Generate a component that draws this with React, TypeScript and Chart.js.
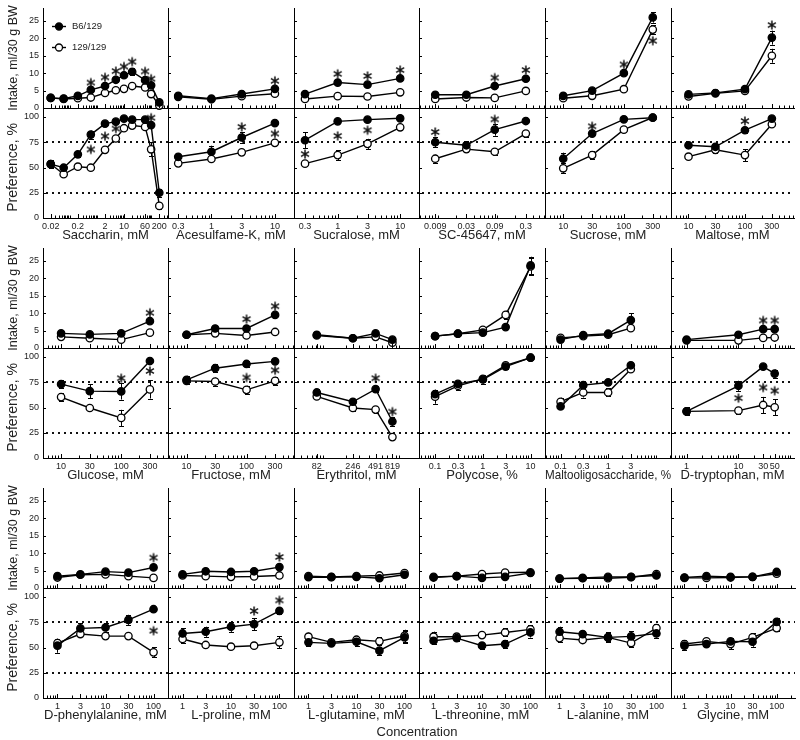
import React, { useEffect, useRef } from "react";
import { Chart, registerables } from "chart.js";
Chart.register(...registerables);

const FONT = "'Liberation Sans', Arial, Helvetica, sans-serif";
Chart.defaults.font.family = FONT;
Chart.defaults.color = "#222";

// ---------------- data ----------------
const seriesLabels = ["B6/129", "129/129"];
const intakeTicks = [0, 5, 10, 15, 20, 25];
const prefTicks = [0, 25, 50, 75, 100];
const prefRefLines = [25, 75];
const intakeMax = 28.7;

const sugarConc = [10, 30, 100, 300];
const sugarTicks = ["10", "30", "100", "300"];
const aminoConc = [1, 3, 10, 30, 100];
const aminoTicks = ["1", "3", "10", "30", "100"];

// Saccharin
const saccharinConc = [0.02, 0.06, 0.2, 0.6, 2, 5, 10, 20, 60, 100, 200];
const saccharinTicks = ["0.02", "0.2", "2", "10", "60", "200"];
const saccharinIntakeB6 = [2.9, 2.7, 3.5, 5.2, 6.3, 8.1, 9.4, 10.4, 8.0, 6.5, 1.6];
const saccharinIntake129 = [2.9, 2.6, 2.8, 3.0, 4.3, 5.1, 5.5, 6.3, 5.9, 4.0, 0.7];
const saccharinIntakeErrB6 = [0.3, 0.3, 0.3, 0.5, 0.5, 0.5, 0.6, 1.0, 0.6, 0.5, 0.4];
const saccharinIntakeErr129 = [0.3, 0.3, 0.3, 0.3, 0.4, 0.4, 0.4, 0.5, 0.5, 0.4, 0.2];
const saccharinPrefB6 = [53.4, 49.8, 63, 82.6, 93.4, 95.4, 98.4, 97.4, 97.4, 92, 25];
const saccharinPref129 = [53.4, 43.3, 50.8, 49.8, 67.5, 78.7, 88.9, 91.5, 90.2, 68, 12];
const saccharinPrefErrB6 = [4, 2, 3, 4, 1, 1, 1, 1, 1, 2, 4];
const saccharinPrefErr129 = [3, 2, 2, 2, 2, 2, 2, 2, 2, 7, 3];
const saccharinIntakeStars = [[0.6, 7.3], [2, 8.8], [5, 10.6], [10, 11.9], [20, 13.3], [60, 10.5], [100, 8.4]];
const saccharinPrefStars = [[0.6, 67.9], [2, 81], [5, 88.5], [100, 99.3]];

// Acesulfame-K
const acesulfameConc = [0.3, 1, 3, 10];
const acesulfameTicks = ["0.3", "1", "3", "10"];
const acesulfameIntakeB6 = [3.5, 2.7, 4.0, 5.5];
const acesulfameIntake129 = [3.2, 2.5, 3.4, 4.1];
const acesulfamePrefB6 = [60.6, 65.6, 79.7, 94];
const acesulfamePref129 = [54.1, 58.4, 65, 74.4];
const acesulfamePrefErrB6 = [3, 6, 5, 1];
const acesulfamePrefErr129 = [3, 2, 2, 2];
const acesulfameIntakeStars = [[10, 7.8]];
const acesulfamePrefStars = [[3, 90.2], [10, 83.6]];

// Sucralose
const sucraloseConc = [0.3, 1, 3, 10];
const sucraloseTicks = ["0.3", "1", "3", "10"];
const sucraloseIntakeB6 = [4.0, 7.3, 6.7, 8.5];
const sucraloseIntake129 = [2.6, 3.4, 3.3, 4.5];
const sucralosePrefB6 = [77, 95.7, 97.4, 98.7];
const sucralosePref129 = [53.8, 62.3, 73.4, 89.8];
const sucralosePrefErrB6 = [8, 1, 1, 1];
const sucralosePrefErr129 = [2, 5, 5, 3];
const sucraloseIntakeStars = [[1, 9.8], [3, 9.2], [10, 10.9]];
const sucralosePrefStars = [[0.3, 63.3], [1, 81.3], [3, 86.9]];

// SC-45647
const scConc = [0.009, 0.03, 0.09, 0.3];
const scTicks = ["0.009", "0.03", "0.09", "0.3"];
const scIntakeB6 = [3.8, 3.8, 6.3, 8.4];
const scIntake129 = [2.6, 3.0, 2.9, 4.9];
const scPrefB6 = [75, 72, 87.5, 96];
const scPref129 = [58.7, 68.2, 65.6, 83.6];
const scPrefErrB6 = [5, 4, 6, 1];
const scPrefErr129 = [4, 3, 3, 3];
const scIntakeStars = [[0.09, 8.7], [0.3, 10.9]];
const scPrefStars = [[0.009, 85.2], [0.09, 97.7]];

// Sucrose
const sucroseIntakeB6 = [3.5, 5.0, 10.0, 26.0];
const sucroseIntake129 = [2.8, 3.5, 5.4, 22.5];
const sucroseIntakeErrB6 = [0.3, 0.3, 0.5, 1.5];
const sucroseIntakeErr129 = [0.2, 0.3, 0.4, 1.2];
const sucrosePrefB6 = [58.7, 83.6, 97.7, 99.3];
const sucrosePref129 = [49.2, 62.3, 87.5, 99.5];
const sucrosePrefErrB6 = [6, 2, 1, 1];
const sucrosePrefErr129 = [5, 4, 2, 1];
const sucroseIntakeStars = [[100, 12.5], [300, 19.3]];
const sucrosePrefStars = [[30, 90.8]];

// Maltose
const maltoseIntakeB6 = [3.9, 4.3, 5.4, 20.2];
const maltoseIntake129 = [3.3, 4.2, 4.9, 15.0];
const maltoseIntakeErrB6 = [0.3, 0.3, 0.4, 2.0];
const maltoseIntakeErr129 = [0.3, 0.3, 0.3, 2.0];
const maltosePrefB6 = [72, 70.5, 86.9, 98.4];
const maltosePref129 = [60.7, 67.5, 62.3, 92.8];
const maltosePrefErrB6 = [3, 3, 3, 1];
const maltosePrefErr129 = [2, 3, 6, 2];
const maltoseIntakeStars = [[300, 23.8]];
const maltosePrefStars = [[100, 96]];

// Glucose
const glucoseIntakeB6 = [4.2, 3.9, 4.2, 7.7];
const glucoseIntake129 = [3.2, 2.8, 2.4, 4.4];
const glucosePrefB6 = [73.1, 66.2, 65.9, 96];
const glucosePref129 = [60.3, 49.5, 39.7, 67.9];
const glucosePrefErrB6 = [4, 7, 8, 1];
const glucosePrefErr129 = [4, 2, 8, 9];
const glucoseIntakeStars = [[300, 10.1]];
const glucosePrefStars = [[100, 79], [300, 86.2]];

// Fructose
const fructoseIntakeB6 = [3.8, 5.6, 5.6, 9.5];
const fructoseIntake129 = [3.8, 4.2, 3.6, 4.6];
const fructosePrefB6 = [77.4, 88.9, 93.1, 95.7];
const fructosePref129 = [76.4, 75.7, 67.5, 76.4];
const fructosePrefErrB6 = [4, 4, 3, 1];
const fructosePrefErr129 = [3, 4, 4, 4];
const fructoseIntakeStars = [[100, 8.3], [300, 12]];
const fructosePrefStars = [[100, 79.7], [300, 86.9]];

// Erythritol
const erythritolConc = [82, 246, 491, 819];
const erythritolTicks = ["82", "246", "491", "819"];
const erythritolIntakeB6 = [3.8, 2.8, 4.2, 2.4];
const erythritolIntake129 = [3.6, 2.8, 3.2, 1.5];
const erythritolPrefB6 = [64.9, 55.7, 68.2, 36.1];
const erythritolPref129 = [61, 49.5, 47.9, 20.7];
const erythritolPrefErrB6 = [3, 3, 3, 4];
const erythritolPrefErr129 = [2, 3, 3, 2];
const erythritolPrefStars = [[491, 79], [819, 45.9]];

// Polycose
const polycoseConc = [0.1, 0.3, 1, 3, 10];
const polycoseTicks = ["0.1", "0.3", "1", "3", "10"];
const polycoseIntakeB6 = [3.4, 4.1, 4.4, 6.0, 23.7];
const polycoseIntake129 = [3.4, 4.1, 5.2, 9.5, 23.4];
const polycoseIntakeErrB6 = [0.3, 0.3, 0.4, 0.5, 2.5];
const polycoseIntakeErr129 = [0.3, 0.3, 0.4, 1.2, 2.5];
const polycosePrefB6 = [63.3, 73.4, 77.7, 90.5, 99.3];
const polycosePref129 = [60.7, 71.5, 78.4, 91.8, 99.3];
const polycosePrefErrB6 = [4, 3, 4, 2, 1];
const polycosePrefErr129 = [7, 4, 3, 2, 1];

// Maltooligosaccharide
const maltoligoConc = [0.1, 0.3, 1, 3];
const maltoligoTicks = ["0.1", "0.3", "1", "3"];
const maltoligoIntakeB6 = [2.4, 3.7, 4.1, 8.0];
const maltoligoIntake129 = [2.9, 3.4, 3.8, 5.7];
const maltoligoIntakeErrB6 = [0.3, 0.4, 0.4, 2.0];
const maltoligoIntakeErr129 = [0.3, 0.3, 0.3, 0.6];
const maltoligoPrefB6 = [51.1, 72.1, 74.8, 91.8];
const maltoligoPref129 = [55.7, 64.9, 64.9, 87.9];
const maltoligoPrefErrB6 = [2, 3, 3, 2];
const maltoligoPrefErr129 = [4, 5, 4, 2];

// D-tryptophan
const dTrpConc = [1, 10, 30, 50];
const dTrpTicks = ["1", "10", "30", "50"];
const dTrpIntakeB6 = [2.4, 3.8, 5.4, 5.4];
const dTrpIntake129 = [2.2, 2.2, 2.9, 3.0];
const dTrpPrefB6 = [46.2, 71.5, 90.5, 83.6];
const dTrpPref129 = [46.2, 46.9, 52.5, 50.2];
const dTrpPrefErrB6 = [4, 5, 1, 4];
const dTrpPrefErr129 = [3, 3, 8, 8];
const dTrpIntakeStars = [[30, 7.9], [50, 7.9]];
const dTrpPrefStars = [[10, 59.3], [30, 69.8], [50, 66.6]];

// D-phenylalanine
const dPheIntakeB6 = [3.4, 3.9, 4.7, 4.4, 5.9];
const dPheIntake129 = [3.0, 3.8, 3.9, 3.4, 2.9];
const dPhePrefB6 = [51.8, 68.9, 69.8, 77.4, 87.9];
const dPhePref129 = [54.4, 63.3, 61.3, 61.3, 45.2];
const dPhePrefErrB6 = [7, 5, 4, 5, 1];
const dPhePrefErr129 = [4, 2, 2, 1, 5];
const dPheIntakeStars = [[100, 8.7]];
const dPhePrefStars = [[100, 66.6]];

// L-proline
const lProIntakeB6 = [3.9, 4.8, 4.6, 4.8, 6.0];
const lProIntake129 = [3.6, 3.4, 3.2, 3.3, 3.6];
const lProPrefB6 = [63.9, 65.6, 70.5, 73.1, 86.2];
const lProPref129 = [58.4, 52.5, 50.8, 51.8, 55.1];
const lProPrefErrB6 = [5, 5, 5, 6, 3];
const lProPrefErr129 = [4, 1, 1, 1, 6];
const lProIntakeStars = [[100, 8.9]];
const lProPrefStars = [[30, 86.2], [100, 96.7]];

// L-glutamine
const lGlnIntakeB6 = [3.1, 3.1, 3.2, 2.8, 3.8];
const lGlnIntake129 = [3.4, 3.2, 3.4, 3.6, 4.3];
const lGlnPrefB6 = [55.1, 54.1, 55.7, 46.9, 60];
const lGlnPref129 = [60.7, 55.1, 57.7, 56.1, 61.6];
const lGlnPrefErrB6 = [4, 3, 4, 4, 6];
const lGlnPrefErr129 = [4, 3, 3, 4, 6];

// L-threonine
const lThrIntakeB6 = [3.0, 3.4, 2.9, 3.2, 4.3];
const lThrIntake129 = [3.2, 3.4, 4.0, 4.4, 4.5];
const lThrPrefB6 = [56.7, 59.3, 51.8, 53.4, 64.9];
const lThrPref129 = [60.7, 60.7, 62.3, 64.9, 67.9];
const lThrPrefErrB6 = [3, 3, 3, 4, 5];
const lThrPrefErr129 = [5, 3, 2, 4, 4];

// L-alanine
const lAlaIntakeB6 = [2.7, 2.9, 3.2, 3.2, 3.6];
const lAlaIntake129 = [2.7, 2.8, 2.8, 3.1, 4.0];
const lAlaPrefB6 = [65.6, 63.3, 60, 61, 63.9];
const lAlaPref129 = [59.3, 57.4, 60, 54.4, 69.2];
const lAlaPrefErrB6 = [5, 3, 5, 5, 4];
const lAlaPrefErr129 = [4, 2, 4, 4, 4];

// Glycine
const glyIntakeB6 = [3.0, 3.4, 3.2, 3.2, 4.6];
const glyIntake129 = [2.9, 2.9, 3.0, 3.2, 4.1];
const glyPrefB6 = [51.8, 53.4, 56.1, 55.7, 75.4];
const glyPref129 = [53.4, 56.1, 53.4, 60, 69.2];
const glyPrefErrB6 = [4, 2, 3, 5, 4];
const glyPrefErr129 = [4, 2, 5, 4, 3];

type Panel = {
  title: string;
  conc: number[];
  ticks: string[];
  range: [number, number];
  intake: number[][];
  intakeErr?: number[][];
  pref: number[][];
  prefErr?: number[][];
  intakeStars?: number[][];
  prefStars?: number[][];
};

const panels: Panel[][] = [
  [
    { title: "Saccharin, mM", conc: saccharinConc, ticks: saccharinTicks, range: [0.0104, 418],
      intake: [saccharinIntakeB6, saccharinIntake129], intakeErr: [saccharinIntakeErrB6, saccharinIntakeErr129],
      pref: [saccharinPrefB6, saccharinPref129], prefErr: [saccharinPrefErrB6, saccharinPrefErr129],
      intakeStars: saccharinIntakeStars, prefStars: saccharinPrefStars },
    { title: "Acesulfame-K, mM", conc: acesulfameConc, ticks: acesulfameTicks, range: [0.207, 20],
      intake: [acesulfameIntakeB6, acesulfameIntake129],
      pref: [acesulfamePrefB6, acesulfamePref129], prefErr: [acesulfamePrefErrB6, acesulfamePrefErr129],
      intakeStars: acesulfameIntakeStars, prefStars: acesulfamePrefStars },
    { title: "Sucralose, mM", conc: sucraloseConc, ticks: sucraloseTicks, range: [0.2, 20],
      intake: [sucraloseIntakeB6, sucraloseIntake129],
      pref: [sucralosePrefB6, sucralosePref129], prefErr: [sucralosePrefErrB6, sucralosePrefErr129],
      intakeStars: sucraloseIntakeStars, prefStars: sucralosePrefStars },
    { title: "SC-45647, mM", conc: scConc, ticks: scTicks, range: [0.0048, 0.63],
      intake: [scIntakeB6, scIntake129],
      pref: [scPrefB6, scPref129], prefErr: [scPrefErrB6, scPrefErr129],
      intakeStars: scIntakeStars, prefStars: scPrefStars },
    { title: "Sucrose, mM", conc: sugarConc, ticks: sugarTicks, range: [5, 600],
      intake: [sucroseIntakeB6, sucroseIntake129], intakeErr: [sucroseIntakeErrB6, sucroseIntakeErr129],
      pref: [sucrosePrefB6, sucrosePref129], prefErr: [sucrosePrefErrB6, sucrosePrefErr129],
      intakeStars: sucroseIntakeStars, prefStars: sucrosePrefStars },
    { title: "Maltose, mM", conc: sugarConc, ticks: sugarTicks, range: [4.9, 740],
      intake: [maltoseIntakeB6, maltoseIntake129], intakeErr: [maltoseIntakeErrB6, maltoseIntakeErr129],
      pref: [maltosePrefB6, maltosePref129], prefErr: [maltosePrefErrB6, maltosePrefErr129],
      intakeStars: maltoseIntakeStars, prefStars: maltosePrefStars },
  ],
  [
    { title: "Glucose, mM", conc: sugarConc, ticks: sugarTicks, range: [5, 600],
      intake: [glucoseIntakeB6, glucoseIntake129],
      pref: [glucosePrefB6, glucosePref129], prefErr: [glucosePrefErrB6, glucosePrefErr129],
      intakeStars: glucoseIntakeStars, prefStars: glucosePrefStars },
    { title: "Fructose, mM", conc: sugarConc, ticks: sugarTicks, range: [4.9, 620],
      intake: [fructoseIntakeB6, fructoseIntake129],
      pref: [fructosePrefB6, fructosePref129], prefErr: [fructosePrefErrB6, fructosePrefErr129],
      intakeStars: fructoseIntakeStars, prefStars: fructosePrefStars },
    { title: "Erythritol, mM", conc: erythritolConc, ticks: erythritolTicks, range: [41, 1840],
      intake: [erythritolIntakeB6, erythritolIntake129],
      pref: [erythritolPrefB6, erythritolPref129], prefErr: [erythritolPrefErrB6, erythritolPrefErr129],
      prefStars: erythritolPrefStars },
    { title: "Polycose, %", conc: polycoseConc, ticks: polycoseTicks, range: [0.046, 20],
      intake: [polycoseIntakeB6, polycoseIntake129], intakeErr: [polycoseIntakeErrB6, polycoseIntakeErr129],
      pref: [polycosePrefB6, polycosePref129], prefErr: [polycosePrefErrB6, polycosePrefErr129] },
    { title: "Maltooligosaccharide, %", conc: maltoligoConc, ticks: maltoligoTicks, range: [0.047, 21],
      intake: [maltoligoIntakeB6, maltoligoIntake129], intakeErr: [maltoligoIntakeErrB6, maltoligoIntakeErr129],
      pref: [maltoligoPrefB6, maltoligoPref129], prefErr: [maltoligoPrefErrB6, maltoligoPrefErr129] },
    { title: "D-tryptophan, mM", conc: dTrpConc, ticks: dTrpTicks, range: [0.5, 118],
      intake: [dTrpIntakeB6, dTrpIntake129],
      pref: [dTrpPrefB6, dTrpPref129], prefErr: [dTrpPrefErrB6, dTrpPrefErr129],
      intakeStars: dTrpIntakeStars, prefStars: dTrpPrefStars },
  ],
  [
    { title: "D-phenylalanine, mM", conc: aminoConc, ticks: aminoTicks, range: [0.5, 200],
      intake: [dPheIntakeB6, dPheIntake129],
      pref: [dPhePrefB6, dPhePref129], prefErr: [dPhePrefErrB6, dPhePrefErr129],
      intakeStars: dPheIntakeStars, prefStars: dPhePrefStars },
    { title: "L-proline, mM", conc: aminoConc, ticks: aminoTicks, range: [0.5, 200],
      intake: [lProIntakeB6, lProIntake129],
      pref: [lProPrefB6, lProPref129], prefErr: [lProPrefErrB6, lProPrefErr129],
      intakeStars: lProIntakeStars, prefStars: lProPrefStars },
    { title: "L-glutamine, mM", conc: aminoConc, ticks: aminoTicks, range: [0.5, 200],
      intake: [lGlnIntakeB6, lGlnIntake129],
      pref: [lGlnPrefB6, lGlnPref129], prefErr: [lGlnPrefErrB6, lGlnPrefErr129] },
    { title: "L-threonine, mM", conc: aminoConc, ticks: aminoTicks, range: [0.5, 200],
      intake: [lThrIntakeB6, lThrIntake129],
      pref: [lThrPrefB6, lThrPref129], prefErr: [lThrPrefErrB6, lThrPrefErr129] },
    { title: "L-alanine, mM", conc: aminoConc, ticks: aminoTicks, range: [0.5, 200],
      intake: [lAlaIntakeB6, lAlaIntake129],
      pref: [lAlaPrefB6, lAlaPref129], prefErr: [lAlaPrefErrB6, lAlaPrefErr129] },
    { title: "Glycine, mM", conc: aminoConc, ticks: aminoTicks, range: [0.51, 250],
      intake: [glyIntakeB6, glyIntake129],
      pref: [glyPrefB6, glyPref129], prefErr: [glyPrefErrB6, glyPrefErr129] },
  ],
];

// ---------------- layout ----------------
const COL_X = [43, 168, 294, 419, 545, 671];
const ROW_TOP = [8, 248, 488];
const INTAKE_H = 100;
const GAP = 9;
const PREF_H = 101;

let starImg: HTMLCanvasElement | null = null;
function getStar(): HTMLCanvasElement {
  if (starImg) return starImg;
  const c = document.createElement("canvas");
  c.width = 12;
  c.height = 12;
  const g = c.getContext("2d")!;
  g.strokeStyle = "#111";
  g.lineWidth = 1.5;
  g.beginPath();
  const cx = 6, cy = 6, r = 4.6;
  for (let k = 0; k < 3; k++) {
    const a = Math.PI / 2 + (k * Math.PI) / 3;
    g.moveTo(cx + r * Math.cos(a), cy + r * Math.sin(a));
    g.lineTo(cx - r * Math.cos(a), cy - r * Math.sin(a));
  }
  g.stroke();
  starImg = c;
  return c;
}

function lineDs(label: string, xs: number[], ys: number[], errs: number[] | undefined, filled: boolean) {
  return {
    type: "line",
    label,
    data: xs.map((x, i) => ({ x, y: ys[i] })),
    errors: errs,
    borderColor: "#000",
    borderWidth: 1.4,
    pointRadius: 3.7,
    pointHoverRadius: 3.7,
    pointBorderWidth: 1.3,
    pointBackgroundColor: filled ? "#000" : "#fff",
    pointBorderColor: "#000",
    fill: false,
    tension: 0,
    clip: false,
  };
}

function Subplot({ p, col, row, kind }: { p: Panel; col: number; row: number; kind: "intake" | "pref" }) {
  const ref = useRef<HTMLCanvasElement>(null);
  const isIntake = kind === "intake";
  const first = col === 0;
  const padL = first ? 43 : 6;
  const right = col < 5 ? COL_X[col + 1] : 800;
  const plotW = right - COL_X[col];
  const padR = col < 5 ? 10 : 0;
  const padT = 6;
  const padB = isIntake ? 6 : 30;
  const plotH = isIntake ? INTAKE_H : PREF_H;
  const plotTop = ROW_TOP[row] + (isIntake ? 0 : INTAKE_H + GAP);
  const W = padL + plotW + padR;
  const H = padT + plotH + padB;
  const left = COL_X[col] - padL;
  const top = plotTop - padT;

  useEffect(() => {
    const ys = isIntake ? p.intake : p.pref;
    const errs = isIntake ? p.intakeErr : p.prefErr;
    const stars = isIntake ? p.intakeStars : p.prefStars;
    const tickVals = p.ticks.map(Number);
    const yTicks = isIntake ? intakeTicks : prefTicks;
    const datasets: any[] = [
      lineDs(seriesLabels[0], p.conc, ys[0], errs ? errs[0] : undefined, true),
      lineDs(seriesLabels[1], p.conc, ys[1], errs ? errs[1] : undefined, false),
    ];
    if (stars && stars.length) {
      datasets.push({
        type: "line",
        label: "*",
        data: stars.map(([x, y]) => ({ x, y })),
        showLine: false,
        pointStyle: getStar(),
        pointRadius: 5,
        clip: false,
      });
    }

    const plugins: any[] = [
      {
        id: "refLinesAndErrors",
        beforeDatasetsDraw(chart: any) {
          const { ctx, chartArea, scales } = chart;
          ctx.save();
          if (!isIntake) {
            ctx.strokeStyle = "#111";
            ctx.lineWidth = 2;
            ctx.setLineDash([2, 4]);
            for (const v of prefRefLines) {
              const y = Math.round(scales.y.getPixelForValue(v));
              ctx.beginPath();
              ctx.moveTo(chartArea.left + 3, y);
              ctx.lineTo(chartArea.right, y);
              ctx.stroke();
            }
            ctx.setLineDash([]);
          }
          ctx.strokeStyle = "#000";
          ctx.lineWidth = 1;
          chart.data.datasets.forEach((ds: any, i: number) => {
            if (!ds.errors) return;
            const meta = chart.getDatasetMeta(i);
            meta.data.forEach((pt: any, j: number) => {
              const e = ds.errors[j];
              if (!e) return;
              const v = ds.data[j].y;
              const x = Math.round(pt.x) + 0.5;
              const y1 = scales.y.getPixelForValue(v + e);
              const y2 = scales.y.getPixelForValue(v - e);
              ctx.beginPath();
              ctx.moveTo(x, y1);
              ctx.lineTo(x, y2);
              ctx.moveTo(x - 2.5, Math.round(y1) + 0.5);
              ctx.lineTo(x + 2.5, Math.round(y1) + 0.5);
              ctx.moveTo(x - 2.5, Math.round(y2) + 0.5);
              ctx.lineTo(x + 2.5, Math.round(y2) + 0.5);
              ctx.stroke();
            });
          });
          ctx.restore();
        },
      },
      {
        id: "inwardTicks",
        afterDraw(chart: any) {
          const { ctx, chartArea, scales } = chart;
          const xs = scales.x;
          ctx.save();
          ctx.strokeStyle = "#000";
          ctx.lineWidth = 1;
          ctx.beginPath();
          const b = Math.round(chartArea.bottom);
          for (const v of tickVals) {
            const x = Math.round(xs.getPixelForValue(v)) + 0.5;
            ctx.moveTo(x, b);
            ctx.lineTo(x, b - 4);
          }
          const k0 = Math.floor(Math.log10(p.range[0]));
          const k1 = Math.ceil(Math.log10(p.range[1]));
          for (let k = k0; k <= k1; k++) {
            for (let m = 1; m <= 9; m++) {
              const v = m * Math.pow(10, k);
              if (v <= p.range[0] || v >= p.range[1]) continue;
              if (tickVals.some((t) => Math.abs(t - v) / v < 1e-6)) continue;
              const x = Math.round(xs.getPixelForValue(v)) + 0.5;
              ctx.moveTo(x, b);
              ctx.lineTo(x, b - 2.5);
            }
          }
          const l = Math.round(chartArea.left);
          for (const v of yTicks) {
            const y = Math.round(scales.y.getPixelForValue(v)) + 0.5;
            ctx.moveTo(l, y);
            ctx.lineTo(l + 3, y);
          }
          ctx.stroke();
          ctx.restore();
        },
      },
    ];

    if (first && row === 0 && isIntake) {
      plugins.push({
        id: "innerLegend",
        afterDraw(chart: any) {
          const { ctx, chartArea } = chart;
          ctx.save();
          chart.data.datasets.slice(0, 2).forEach((ds: any, i: number) => {
            const y = Math.round(chartArea.top + 17.7 + i * 21.3) + 0.5;
            const x0 = chartArea.left + 9;
            ctx.strokeStyle = "#000";
            ctx.lineWidth = 1.4;
            ctx.beginPath();
            ctx.moveTo(x0, y);
            ctx.lineTo(x0 + 14, y);
            ctx.stroke();
            ctx.beginPath();
            ctx.arc(x0 + 7, y, 3.5, 0, Math.PI * 2);
            ctx.fillStyle = ds.pointBackgroundColor;
            ctx.fill();
            ctx.lineWidth = 1.3;
            ctx.stroke();
            ctx.fillStyle = "#222";
            ctx.font = `9.5px ${FONT}`;
            ctx.textBaseline = "middle";
            ctx.textAlign = "left";
            ctx.fillText(ds.label, x0 + 20, y);
          });
          ctx.restore();
        },
      });
    }

    const chart = new Chart(ref.current as HTMLCanvasElement, {
      type: "line",
      data: { datasets },
      plugins,
      options: {
        animation: false,
        responsive: false,
        events: [],
        layout: { padding: { left: 0, top: padT, right: padR, bottom: 0 } },
        plugins: { legend: { display: false }, tooltip: { enabled: false } },
        scales: {
          x: {
            type: "logarithmic",
            min: p.range[0],
            max: p.range[1],
            bounds: "data",
            afterBuildTicks: (s: any) => {
              s.ticks = tickVals.map((v) => ({ value: v }));
            },
            afterFit: (s: any) => {
              s.height = padB;
              s.paddingLeft = 0;
              s.paddingRight = 0;
            },
            grid: { display: false, drawTicks: false },
            border: { display: true, color: "#000", width: 1 },
            ticks: {
              display: !isIntake,
              autoSkip: false,
              maxRotation: 0,
              minRotation: 0,
              padding: 3,
              color: "#222",
              font: { size: 9, family: FONT },
              callback: (_v: any, i: number) => p.ticks[i],
            },
            title: {
              display: !isIntake,
              text: p.title,
              color: "#222",
              font: { size: 13, family: FONT },
              padding: { top: 0, bottom: 4.7 },
            },
          },
          y: {
            type: "linear",
            min: 0,
            max: isIntake ? intakeMax : 100,
            bounds: "data",
            afterBuildTicks: (s: any) => {
              s.ticks = yTicks.map((v) => ({ value: v }));
            },
            afterFit: (s: any) => {
              s.width = padL;
              s.paddingTop = 0;
              s.paddingBottom = 0;
            },
            grid: { display: false, drawTicks: false },
            border: { display: true, color: "#000", width: 1 },
            ticks: {
              display: first,
              padding: 4,
              color: "#222",
              font: { size: 9, family: FONT },
            },
            title: {
              display: first,
              text: isIntake ? "Intake, ml/30 g BW" : "Preference, %",
              color: "#222",
              font: { size: isIntake ? 12.5 : 14, family: FONT },
              padding: { top: isIntake ? 6 : 5.1, bottom: 0 },
            },
          },
        },
      } as any,
    } as any);
    return () => chart.destroy();
  }, []);

  return (
    <canvas
      ref={ref}
      width={W}
      height={H}
      style={{ position: "absolute", left, top, width: W, height: H }}
    />
  );
}

export default function App() {
  const items: React.ReactNode[] = [];
  panels.forEach((rowPanels, r) => {
    rowPanels.forEach((p, c) => {
      items.push(<Subplot key={`i${r}${c}`} p={p} col={c} row={r} kind="intake" />);
      items.push(<Subplot key={`p${r}${c}`} p={p} col={c} row={r} kind="pref" />);
      items.push(
        <div
          key={`g${r}${c}`}
          style={{
            position: "absolute",
            left: COL_X[c],
            top: ROW_TOP[r] + INTAKE_H,
            width: 1,
            height: GAP + 1,
            background: "#000",
          }}
        />
      );
    });
  });
  return (
    <div
      style={{
        position: "absolute",
        left: 0,
        top: 0,
        width: 800,
        height: 740,
        overflow: "hidden",
        background: "#fff",
      }}
    >
      {items}
      <div
        style={{
          position: "absolute",
          left: 417,
          top: 724,
          transform: "translateX(-50%)",
          font: `13px ${FONT}`,
          lineHeight: "15px",
          color: "#222",
          whiteSpace: "nowrap",
        }}
      >
        Concentration
      </div>
    </div>
  );
}
